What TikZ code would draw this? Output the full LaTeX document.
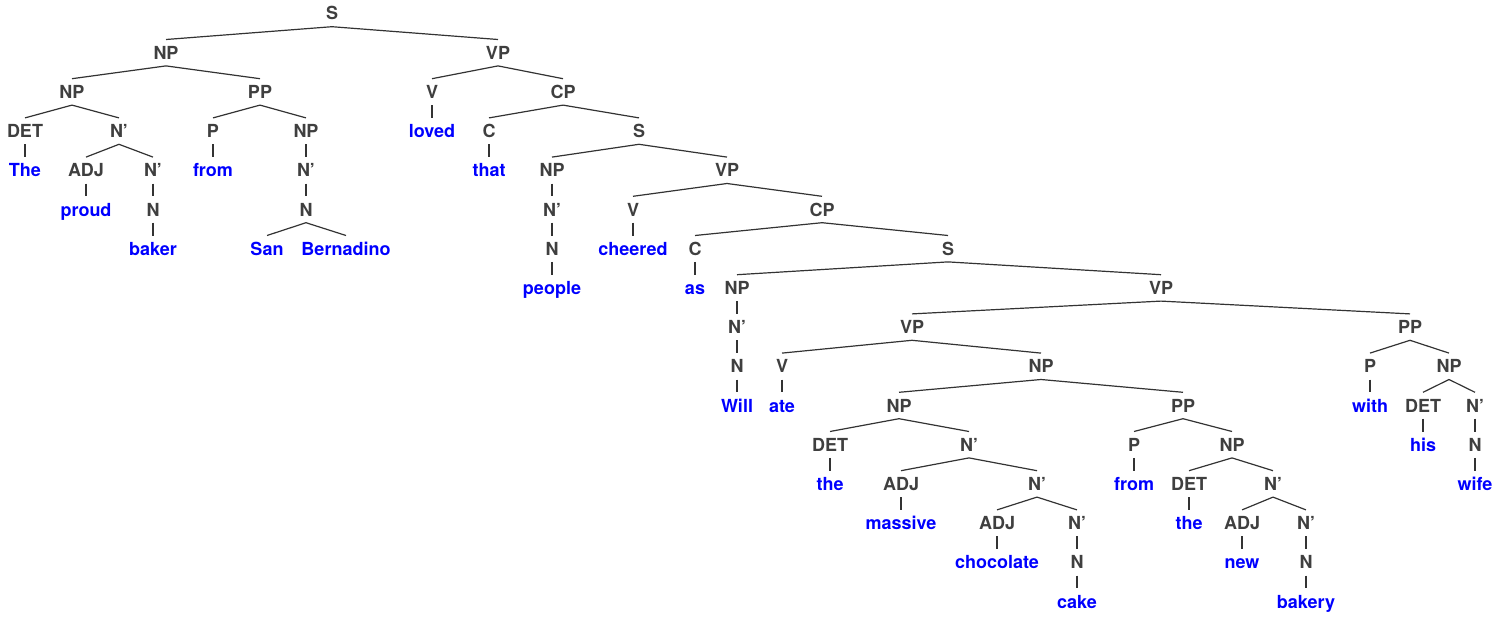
\documentclass[tikz,border=0pt]{standalone}
\usepackage{fontspec}
\setmainfont{TeX Gyre Heros}
\definecolor{catgray}{HTML}{3F3F3F}
\definecolor{wordblue}{HTML}{0000FF}
\definecolor{linegray}{HTML}{333333}
\begin{document}
\begin{tikzpicture}[x=1pt,y=-1pt,
  lbl/.style={font=\fontsize{18}{21}\selectfont\bfseries, text height=13pt, text depth=0pt, inner xsep=0pt, inner ysep=6.5pt},
  cat/.style={lbl, text=catgray},
  wrd/.style={lbl, text=wordblue},
  br/.style={draw=linegray, line width=1.2pt}]
\useasboundingbox (0,0) rectangle (1500,618);
% level 0
\node[cat] (s0) at (332,13.5) {S};
% level 1
\node[cat] (np1) at (166,52.7) {NP};
\node[cat] (vp1) at (498,52.7) {VP};
% level 2
\node[cat] (np2) at (72,91.9) {NP};
\node[cat] (pp1) at (260,91.9) {PP};
\node[cat] (v1) at (432,91.9) {V};
\node[cat] (cp1) at (563,91.9) {CP};
% level 3
\node[cat] (det1) at (25,131.1) {DET};
\node[cat] (nb1) at (119,131.1) {N’};
\node[cat] (p1) at (213,131.1) {P};
\node[cat] (np3) at (306,131.1) {NP};
\node[wrd] (loved) at (432,131.1) {loved};
\node[cat] (c1) at (489,131.1) {C};
\node[cat] (s1) at (639,131.1) {S};
% level 4
\node[wrd] (the1) at (25,170.3) {The};
\node[cat] (adj1) at (86,170.3) {ADJ};
\node[cat] (nb2) at (153,170.3) {N’};
\node[wrd] (from1) at (213,170.3) {from};
\node[cat] (nb3) at (306,170.3) {N’};
\node[wrd] (that) at (489,170.3) {that};
\node[cat] (np4) at (552,170.3) {NP};
\node[cat] (vp2) at (727,170.3) {VP};
% level 5
\node[wrd] (proud) at (86,209.5) {proud};
\node[cat] (n1) at (153,209.5) {N};
\node[cat] (n2) at (306,209.5) {N};
\node[cat] (nb4) at (552,209.5) {N’};
\node[cat] (v2) at (633,209.5) {V};
\node[cat] (cp2) at (822,209.5) {CP};
% level 6
\node[wrd] (baker) at (153,248.7) {baker};
\node[wrd] (san) at (267,248.7) {San};
\node[wrd] (bern) at (346,248.7) {Bernadino};
\node[cat] (n3) at (552,248.7) {N};
\node[wrd] (cheered) at (633,248.7) {cheered};
\node[cat] (c2) at (695,248.7) {C};
\node[cat] (s2) at (948,248.7) {S};
% level 7
\node[wrd] (people) at (552,287.9) {people};
\node[wrd] (as) at (695,287.9) {as};
\node[cat] (np5) at (737,287.9) {NP};
\node[cat] (vp3) at (1161,287.9) {VP};
% level 8
\node[cat] (nb5) at (737,327.1) {N’};
\node[cat] (vp4) at (912,327.1) {VP};
\node[cat] (pp3) at (1410,327.1) {PP};
% level 9
\node[cat] (n4) at (737,366.3) {N};
\node[cat] (v3) at (782,366.3) {V};
\node[cat] (np6) at (1041,366.3) {NP};
\node[cat] (p3) at (1370,366.3) {P};
\node[cat] (np9) at (1449,366.3) {NP};
% level 10
\node[wrd] (will) at (737,405.5) {Will};
\node[wrd] (ate) at (782,405.5) {ate};
\node[cat] (np7) at (899,405.5) {NP};
\node[cat] (pp2) at (1183,405.5) {PP};
\node[wrd] (with) at (1370,405.5) {with};
\node[cat] (det4) at (1423,405.5) {DET};
\node[cat] (nb11) at (1475,405.5) {N’};
% level 11
\node[cat] (det2) at (830,444.7) {DET};
\node[cat] (nb6) at (969,444.7) {N’};
\node[cat] (p2) at (1134,444.7) {P};
\node[cat] (np8) at (1232,444.7) {NP};
\node[wrd] (his) at (1423,444.7) {his};
\node[cat] (n7) at (1475,444.7) {N};
% level 12
\node[wrd] (the2) at (830,483.9) {the};
\node[cat] (adj2) at (901,483.9) {ADJ};
\node[cat] (nb7) at (1037,483.9) {N’};
\node[wrd] (from2) at (1134,483.9) {from};
\node[cat] (det3) at (1189,483.9) {DET};
\node[cat] (nb9) at (1273,483.9) {N’};
\node[wrd] (wife) at (1475,483.9) {wife};
% level 13
\node[wrd] (massive) at (901,523.1) {massive};
\node[cat] (adj3) at (997,523.1) {ADJ};
\node[cat] (nb8) at (1077,523.1) {N’};
\node[wrd] (the3) at (1189,523.1) {the};
\node[cat] (adj4) at (1242,523.1) {ADJ};
\node[cat] (nb10) at (1306,523.1) {N’};
% level 14
\node[wrd] (chocolate) at (997,562.3) {chocolate};
\node[cat] (n5) at (1077,562.3) {N};
\node[wrd] (new) at (1242,562.3) {new};
\node[cat] (n6) at (1306,562.3) {N};
% level 15
\node[wrd] (cake) at (1077,601.5) {cake};
\node[wrd] (bakery) at (1306,601.5) {bakery};
% branches
\foreach \a/\b in {s0/np1, s0/vp1,
  np1/np2, np1/pp1, np2/det1, np2/nb1, det1/the1, nb1/adj1, nb1/nb2,
  adj1/proud, nb2/n1, n1/baker, pp1/p1, pp1/np3, p1/from1, np3/nb3,
  nb3/n2, n2/san, n2/bern,
  vp1/v1, vp1/cp1, v1/loved, cp1/c1, cp1/s1, c1/that, s1/np4, s1/vp2,
  np4/nb4, nb4/n3, n3/people, vp2/v2, vp2/cp2, v2/cheered, cp2/c2, cp2/s2,
  c2/as, s2/np5, s2/vp3, np5/nb5, nb5/n4, n4/will,
  vp3/vp4, vp3/pp3, vp4/v3, vp4/np6, v3/ate, np6/np7, np6/pp2,
  np7/det2, np7/nb6, det2/the2, nb6/adj2, nb6/nb7, adj2/massive,
  nb7/adj3, nb7/nb8, adj3/chocolate, nb8/n5, n5/cake,
  pp2/p2, pp2/np8, p2/from2, np8/det3, np8/nb9, det3/the3,
  nb9/adj4, nb9/nb10, adj4/new, nb10/n6, n6/bakery,
  pp3/p3, pp3/np9, p3/with, np9/det4, np9/nb11, det4/his, nb11/n7, n7/wife}
  \draw[br] (\a.south) -- (\b.north);
\end{tikzpicture}
\end{document}
